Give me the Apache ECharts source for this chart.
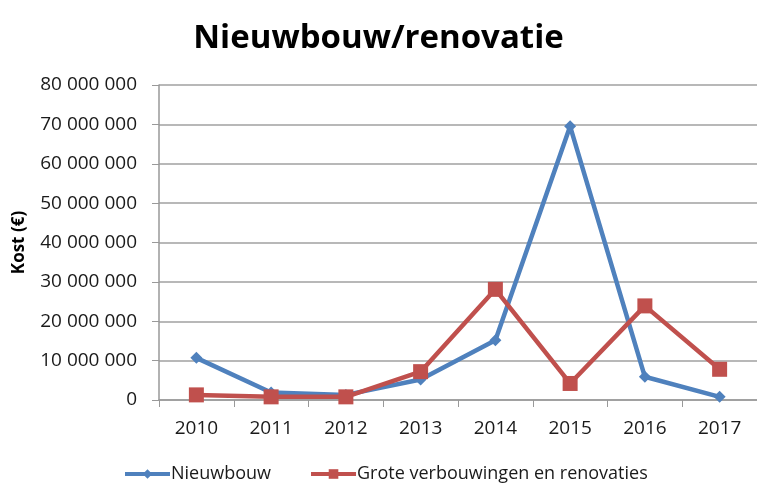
<!DOCTYPE html>
<html>
<head>
<meta charset="utf-8">
<title>Nieuwbouw/renovatie</title>
<script src="https://cdn.jsdelivr.net/npm/echarts@6/dist/echarts.min.js"></script>
<style>
  html, body { margin: 0; padding: 0; background: #fff; }
  #chart { width: 757px; height: 484px; }
</style>
</head>
<body>
<div id="chart"></div>
<script>
const years = ['2010', '2011', '2012', '2013', '2014', '2015', '2016', '2017']
const nieuwbouw = [10700000, 1900000, 1300000, 5200000, 15200000, 69500000, 5900000, 800000]
const verbouwingen = [1300000, 800000, 800000, 7200000, 28100000, 4200000, 23900000, 7800000]

const fmt = v => String(v).replace(/\B(?=(\d{3})+(?!\d))/g, ' ')

const chart = echarts.init(document.getElementById('chart'))

chart.setOption({
  animation: false,
  textStyle: { fontFamily: '"Open Sans", "DejaVu Sans", sans-serif' },
  title: {
    text: 'Nieuwbouw/renovatie',
    left: 'center',
    top: 17,
    textStyle: { fontSize: 33, fontWeight: 'bold', color: '#000' }
  },
  legend: {
    top: 460,
    left: 118,
    itemWidth: 45,
    itemHeight: 12,
    itemGap: 38,
    lineStyle: { width: 4 },
    textStyle: { fontSize: 18, color: '#1a1a1a', padding: [0, 0, 0, -4] },
    data: ['Nieuwbouw', 'Grote verbouwingen en renovaties']
  },
  grid: { left: 159, right: 0, top: 85, bottom: 84 },
  xAxis: {
    type: 'category',
    data: years,
    boundaryGap: true,
    axisLine: { lineStyle: { color: '#999', width: 1.5 } },
    axisTick: { show: true, length: 7, lineStyle: { color: '#999' } },
    axisLabel: { fontSize: 19, color: '#1a1a1a', margin: 19 }
  },
  yAxis: {
    type: 'value',
    min: 0,
    max: 80000000,
    interval: 10000000,
    name: 'Kost (€)',
    nameLocation: 'middle',
    nameGap: 131,
    nameTextStyle: { fontSize: 17, fontWeight: 'bold', color: '#000' },
    axisLine: { show: true, lineStyle: { color: '#999', width: 1.5 } },
    axisTick: { show: true, inside: false, length: 7, lineStyle: { color: '#999' } },
    splitLine: { lineStyle: { color: '#a0a0a0', width: 1.5 } },
    axisLabel: { fontSize: 19, color: '#1a1a1a', margin: 22, formatter: fmt }
  },
  series: [
    {
      name: 'Nieuwbouw',
      type: 'line',
      data: nieuwbouw,
      symbol: 'diamond',
      symbolSize: 12,
      lineStyle: { color: '#4f81bd', width: 4.5 },
      itemStyle: { color: '#4f81bd' }
    },
    {
      name: 'Grote verbouwingen en renovaties',
      type: 'line',
      data: verbouwingen,
      symbol: 'rect',
      symbolSize: 15,
      lineStyle: { color: '#c0504d', width: 4.5 },
      itemStyle: { color: '#c0504d' }
    }
  ]
})
</script>
</body>
</html>
